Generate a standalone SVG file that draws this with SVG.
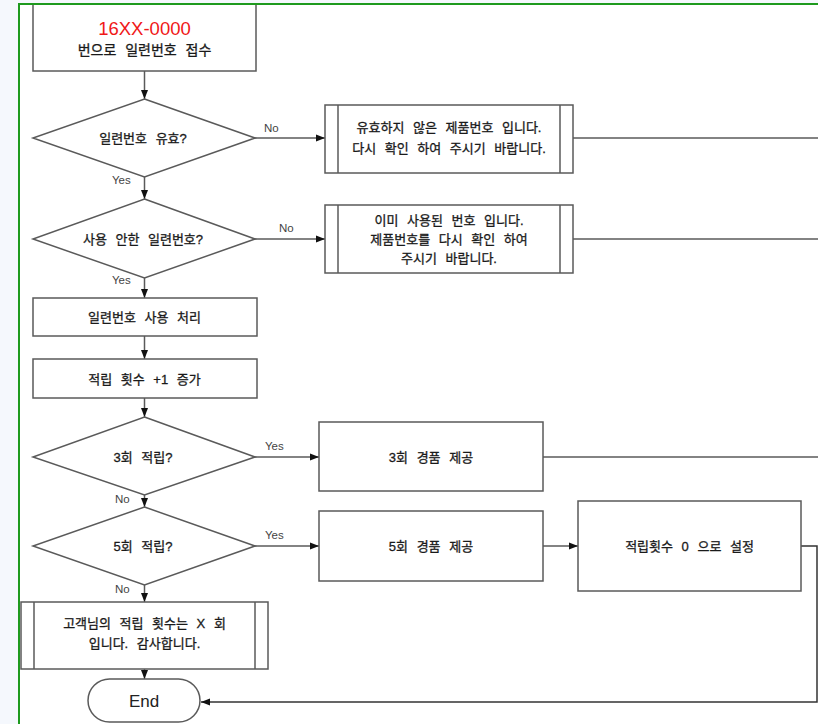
<svg xmlns="http://www.w3.org/2000/svg" width="818" height="724" viewBox="0 0 818 724">
<defs>
<marker id="ah" markerWidth="9" markerHeight="8" refX="9" refY="4" orient="auto" markerUnits="userSpaceOnUse"><path d="M0,0.5 L9,4 L0,7.5 z" fill="#111"/></marker>
<style>
.box{fill:#fff;stroke:#5a5a5a;stroke-width:1.5}
.ln{fill:none;stroke:#5a5a5a;stroke-width:1.5}
.ln2{fill:none;stroke:#333;stroke-width:1.5}
.t{font-family:"Liberation Sans","Noto Sans CJK KR",sans-serif;font-size:13px;fill:#1a1a1a;stroke:#1a1a1a;stroke-width:0.3;text-anchor:middle;word-spacing:5px}
.lb{font-family:"Liberation Sans",sans-serif;font-size:11.5px;fill:#444}
</style>
</defs>
<rect x="0" y="0" width="818" height="724" fill="#f5f8fd"/>
<rect x="19" y="4" width="799" height="720" fill="#fff"/>

<g id="connectors">
<line class="ln" x1="144.5" y1="71" x2="144.5" y2="99" marker-end="url(#ah)"/>
<line class="ln" x1="255" y1="138" x2="325" y2="138" marker-end="url(#ah)"/>
<line class="ln" x1="573" y1="138" x2="818" y2="138"/>
<line class="ln" x1="144.5" y1="177" x2="144.5" y2="199" marker-end="url(#ah)"/>
<line class="ln" x1="255" y1="239" x2="325" y2="239" marker-end="url(#ah)"/>
<line class="ln" x1="573" y1="239" x2="818" y2="239"/>
<line class="ln" x1="144.5" y1="278" x2="144.5" y2="298" marker-end="url(#ah)"/>
<line class="ln" x1="144.5" y1="336" x2="144.5" y2="359" marker-end="url(#ah)"/>
<line class="ln" x1="144.5" y1="398" x2="144.5" y2="417" marker-end="url(#ah)"/>
<line class="ln" x1="255" y1="457" x2="319" y2="457" marker-end="url(#ah)"/>
<line class="ln" x1="543" y1="457" x2="818" y2="457"/>
<line class="ln" x1="144.5" y1="495" x2="144.5" y2="507" marker-end="url(#ah)"/>
<line class="ln" x1="255" y1="546" x2="319" y2="546" marker-end="url(#ah)"/>
<line class="ln" x1="543" y1="546" x2="578" y2="546" marker-end="url(#ah)"/>
<line class="ln" x1="144.5" y1="585" x2="144.5" y2="602" marker-end="url(#ah)"/>
<line class="ln" x1="144.5" y1="669" x2="144.5" y2="679" marker-end="url(#ah)"/>
<polyline class="ln2" points="801,546 817,546 817,702 201,702" marker-end="url(#ah)"/>
<text class="lb" x="264" y="132">No</text>
<text class="lb" x="112" y="184">Yes</text>
<text class="lb" x="279" y="232">No</text>
<text class="lb" x="112" y="284">Yes</text>
<text class="lb" x="265" y="450">Yes</text>
<text class="lb" x="115" y="503">No</text>
<text class="lb" x="265" y="539">Yes</text>
<text class="lb" x="115" y="593">No</text>
</g>

<g id="start">
<rect class="box" x="33" y="4" width="223" height="67"/>
<text x="144.5" y="35" font-family="Liberation Sans,sans-serif" font-size="18.5" fill="#f01818" text-anchor="middle">16XX-0000</text>
<text class="t" x="144.5" y="55" style="font-size:14px">번으로 일련번호 접수</text>
</g>

<g id="d1">
<polygon class="box" points="144.5,99 255,138 144.5,177 33,138"/>
<text class="t" x="143" y="143">일련번호 유효?</text>
</g>

<g id="invalid">
<rect class="box" x="325" y="105" width="248" height="68"/>
<line class="ln" x1="338" y1="105" x2="338" y2="173"/>
<line class="ln" x1="560" y1="105" x2="560" y2="173"/>
<text class="t" x="449" y="132">유효하지 않은 제품번호 입니다.</text>
<text class="t" x="449" y="153">다시 확인 하여 주시기 바랍니다.</text>
</g>

<g id="d2">
<polygon class="box" points="144.5,199 255,239 144.5,278 33,239"/>
<text class="t" x="143" y="244">사용 안한 일련번호?</text>
</g>

<g id="used">
<rect class="box" x="325" y="205" width="248" height="68"/>
<line class="ln" x1="338" y1="205" x2="338" y2="273"/>
<line class="ln" x1="560" y1="205" x2="560" y2="273"/>
<text class="t" x="449" y="225">이미 사용된 번호 입니다.</text>
<text class="t" x="449" y="244">제품번호를 다시 확인 하여</text>
<text class="t" x="449" y="263">주시기 바랍니다.</text>
</g>

<g id="use">
<rect class="box" x="33" y="298" width="224" height="38"/>
<text class="t" x="144.5" y="322">일련번호 사용 처리</text>
</g>

<g id="inc">
<rect class="box" x="33" y="359" width="224" height="39"/>
<text class="t" x="144.5" y="384">적립 횟수 +1 증가</text>
</g>

<g id="d3">
<polygon class="box" points="144.5,417 255,457 144.5,495 33,457"/>
<text class="t" x="143" y="462">3회 적립?</text>
</g>

<g id="gift3">
<rect class="box" x="319" y="422" width="224" height="69"/>
<text class="t" x="431" y="462">3회 경품 제공</text>
</g>

<g id="d5">
<polygon class="box" points="144.5,507 255,546 144.5,585 33,546"/>
<text class="t" x="143" y="551">5회 적립?</text>
</g>

<g id="gift5">
<rect class="box" x="319" y="511" width="224" height="70"/>
<text class="t" x="431" y="551">5회 경품 제공</text>
</g>

<g id="reset">
<rect class="box" x="578" y="501" width="223" height="90"/>
<text class="t" x="689.5" y="551">적립횟수 0 으로 설정</text>
</g>

<g id="count">
<rect class="box" x="21" y="602" width="247" height="67"/>
<line class="ln" x1="34" y1="602" x2="34" y2="669"/>
<line class="ln" x1="255" y1="602" x2="255" y2="669"/>
<text class="t" x="144.5" y="628">고객님의 적립 횟수는 X 회</text>
<text class="t" x="144.5" y="648">입니다. 감사합니다.</text>
</g>

<g id="end">
<rect class="box" x="88" y="679" width="112" height="43" rx="21.5"/>
<text x="144" y="707" font-family="Liberation Sans,sans-serif" font-size="17" fill="#222" text-anchor="middle">End</text>
</g>

<line x1="19" y1="4" x2="818" y2="4" stroke="#1e9a1e" stroke-width="2"/>
<line x1="19" y1="3" x2="19" y2="724" stroke="#1e9a1e" stroke-width="2"/>
</svg>
